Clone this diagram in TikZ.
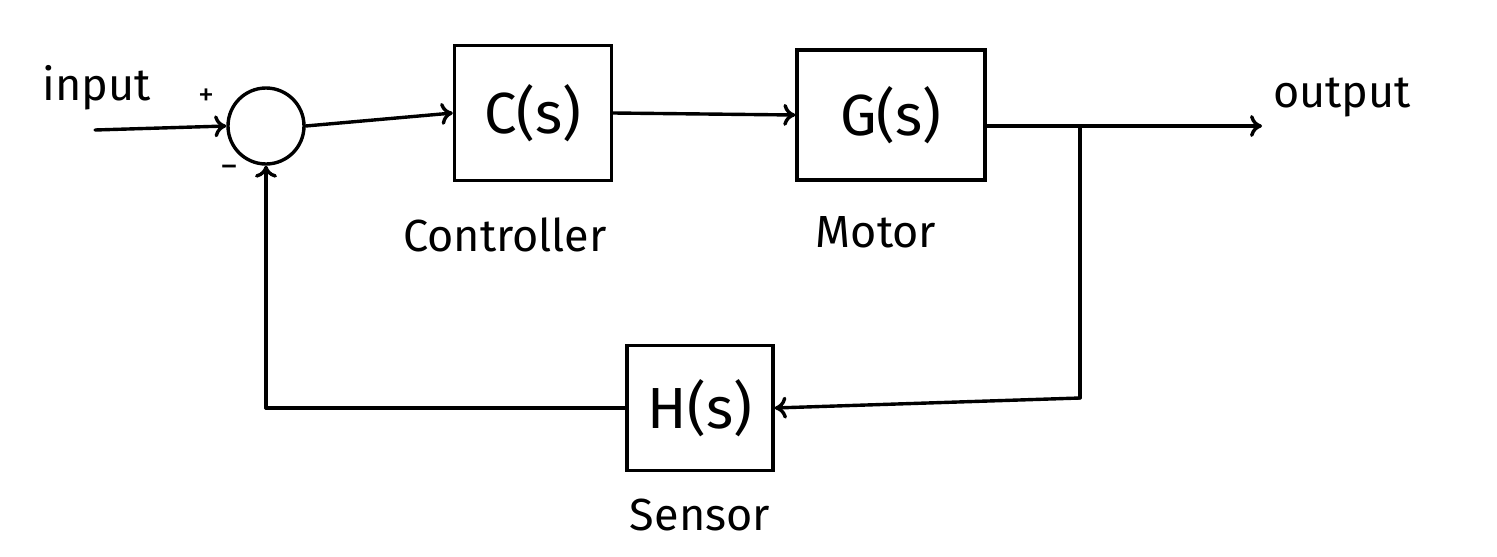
\documentclass[tikz,border=0pt]{standalone}
\usepackage{fontspec}
\setmainfont{Fira Sans}
\usetikzlibrary{arrows.meta}
\tikzset{
  ln/.style={line width=3.4pt, line cap=round, line join=round},
  arr/.style={ln, -{To[length=12pt,width=22pt]}},
  blk/.style={draw, line width=3.4pt, inner sep=0pt},
  lbl/.style={font=\fontsize{45}{48}\selectfont},
  tf/.style={font=\fontsize{58}{62}\selectfont},
}
\begin{document}
\begin{tikzpicture}[x=1pt,y=-1pt]
\useasboundingbox (0,0) rectangle (1497,557);
% blocks
\node[blk, minimum width=157pt, minimum height=135pt, tf] (C) at (533,113) {C(s)};
\node[blk, minimum width=188pt, minimum height=130pt, tf] (G) at (891,115) {G(s)};
\node[blk, minimum width=146pt, minimum height=125pt, tf] (H) at (700,408) {H(s)};
% summing junction
\node[draw, circle, line width=3.4pt, minimum size=76pt, inner sep=0pt] (S) at (266,126) {};
% labels
\node[lbl] (in) at (97,88) {input};
\node[lbl] (out) at (1342,98) {output};
\node[lbl] (cl) at (505,235) {Controller};
\node[lbl] (ml) at (876,232) {Motor};
\node[lbl] (sl) at (700,515) {Sensor};
\node[font=\fontsize{32}{32}\selectfont] (plus) at (206,97) {+};
\node[font=\fontsize{36}{36}\selectfont] (minus) at (229,172) {−};
% coordinates
\coordinate (inS) at (95,130);
\coordinate (br) at (1080,126);
\coordinate (outE) at (1262,126);
\coordinate (brB) at (1080,398);
\coordinate (fbL) at (266,408);
% connectors
\draw[arr] (inS) -- (S.west);
\draw[arr] (S.east) -- (C.west);
\draw[arr] (C.east) -- (G.west);
\draw[arr] (G.east |- br) -- (outE);
\draw[ln] (br) -- (brB);
\draw[arr] (brB) -- (H.east);
\draw[ln] (H.west) -- (fbL);
\draw[arr] (fbL) -- (S.south);
\end{tikzpicture}
\end{document}
